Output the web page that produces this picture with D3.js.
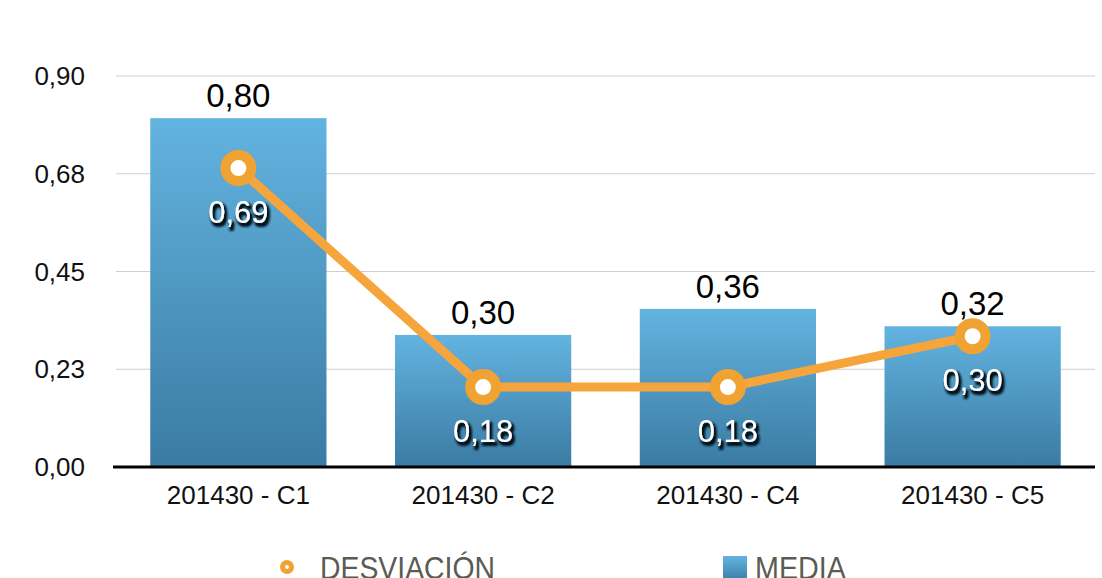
<!DOCTYPE html>
<html>
<head>
<meta charset="utf-8">
<script src="https://cdn.jsdelivr.net/npm/d3@7"></script>
<style>
 body { margin: 0; background: #fff; }
 text { font-family: "Liberation Sans", Arial, sans-serif; }
</style>
</head>
<body>
<div id="chart"></div>
<script>
// chart data
var categories = ["201430 - C1", "201430 - C2", "201430 - C4", "201430 - C5"];
var media = [0.803, 0.304, 0.364, 0.324];
var desviacion = [0.688, 0.184, 0.184, 0.301];
var yTicks = [0, 0.225, 0.45, 0.675, 0.90];
var tickLabels = ["0,00", "0,23", "0,45", "0,68", "0,90"];

var W = 1102, H = 578;
var margin = { top: 76, right: 7, bottom: 111, left: 116 },
  width = W - margin.left - margin.right,
  height = H - margin.top - margin.bottom;

var fmt = function (v) { return v.toFixed(2).replace(".", ","); };

var x = d3.scaleBand().domain(categories).range([0, width]).paddingInner(0.28).paddingOuter(0.14);
var y = d3.scaleLinear().domain([0, 0.9]).range([height, 0]);

var svg = d3.select("#chart").append("svg")
  .attr("width", W)
  .attr("height", H);

var defs = svg.append("defs");
var grad = defs.append("linearGradient")
  .attr("id", "barGrad")
  .attr("x1", 0).attr("y1", 0).attr("x2", 0).attr("y2", 1);
grad.append("stop").attr("offset", "0%").attr("stop-color", "#63b3e0");
grad.append("stop").attr("offset", "100%").attr("stop-color", "#3a7ba2");

var gradL = defs.append("linearGradient")
  .attr("id", "legGrad")
  .attr("x1", 0).attr("y1", 0).attr("x2", 0).attr("y2", 1);
gradL.append("stop").attr("offset", "0%").attr("stop-color", "#63b3e0");
gradL.append("stop").attr("offset", "100%").attr("stop-color", "#3d80a8");

// dark shadow for the labels inside the bars
var shadow = defs.append("filter").attr("id", "shadow")
  .attr("x", "-20%").attr("y", "-30%").attr("width", "150%").attr("height", "170%");
shadow.append("feMorphology")
  .attr("in", "SourceAlpha").attr("operator", "dilate").attr("radius", 0.8)
  .attr("result", "fat");
shadow.append("feOffset")
  .attr("in", "fat").attr("dx", 2).attr("dy", 3).attr("result", "off");
shadow.append("feGaussianBlur")
  .attr("in", "off").attr("stdDeviation", 0.9).attr("result", "blur");
shadow.append("feFlood").attr("flood-color", "#06121a").attr("result", "col");
shadow.append("feComposite").attr("in", "col").attr("in2", "blur").attr("operator", "in").attr("result", "sh");
var merge = shadow.append("feMerge");
merge.append("feMergeNode").attr("in", "sh");
merge.append("feMergeNode").attr("in", "SourceGraphic");

var g = svg.append("g")
  .attr("transform", "translate(" + margin.left + "," + margin.top + ")");

// gridlines
g.selectAll(".grid")
  .data(yTicks.slice(1))
  .enter().append("line")
  .attr("x1", 0).attr("x2", width)
  .attr("y1", function (d) { return y(d); })
  .attr("y2", function (d) { return y(d); })
  .attr("stroke", "#cfcfcf")
  .attr("stroke-width", 1.2);

// y labels
g.selectAll(".ylab")
  .data(yTicks)
  .enter().append("text")
  .attr("x", -31)
  .attr("y", function (d) { return y(d); })
  .attr("dy", "0.35em")
  .attr("text-anchor", "end")
  .attr("font-size", 26)
  .attr("fill", "#111")
  .text(function (d, i) { return tickLabels[i]; });

// bars
g.selectAll(".bar")
  .data(media)
  .enter().append("rect")
  .attr("x", function (d, i) { return x(categories[i]); })
  .attr("width", x.bandwidth())
  .attr("y", function (d) { return y(d); })
  .attr("height", function (d) { return height - y(d); })
  .attr("fill", "url(#barGrad)");

// bar value labels
g.selectAll(".barlab")
  .data(media)
  .enter().append("text")
  .attr("x", function (d, i) { return x(categories[i]) + x.bandwidth() / 2; })
  .attr("y", function (d) { return y(d) - 11; })
  .attr("text-anchor", "middle")
  .attr("font-size", 33)
  .attr("fill", "#000")
  .text(function (d) { return fmt(d); });

// baseline
g.append("line")
  .attr("x1", -3).attr("x2", width)
  .attr("y1", height).attr("y2", height)
  .attr("stroke", "#000")
  .attr("stroke-width", 3);

// category labels
g.selectAll(".xlab")
  .data(categories)
  .enter().append("text")
  .attr("x", function (d) { return x(d) + x.bandwidth() / 2; })
  .attr("y", height + 37)
  .attr("text-anchor", "middle")
  .attr("font-size", 26)
  .attr("fill", "#111")
  .text(function (d) { return d; });

// line
var line = d3.line()
  .x(function (d, i) { return x(categories[i]) + x.bandwidth() / 2; })
  .y(function (d) { return y(d); });

g.append("path")
  .datum(desviacion)
  .attr("d", line)
  .attr("fill", "none")
  .attr("stroke", "#f5a53c")
  .attr("stroke-width", 9)
  .attr("stroke-linejoin", "round");

g.selectAll(".dot")
  .data(desviacion)
  .enter().append("circle")
  .attr("cx", function (d, i) { return x(categories[i]) + x.bandwidth() / 2; })
  .attr("cy", function (d) { return y(d); })
  .attr("r", 13)
  .attr("fill", "#fff")
  .attr("stroke", "#f0a233")
  .attr("stroke-width", 10);

// deviation labels (white with dark shadow)
g.selectAll(".devlab")
  .data(desviacion)
  .enter().append("text")
  .attr("x", function (d, i) { return x(categories[i]) + x.bandwidth() / 2; })
  .attr("y", function (d) { return y(d) + 55; })
  .attr("text-anchor", "middle")
  .attr("font-size", 31)
  .attr("fill", "#fff")
  .attr("filter", "url(#shadow)")
  .text(function (d) { return fmt(d); });

// legend
var leg = svg.append("g");
leg.append("circle")
  .attr("cx", 287).attr("cy", 567)
  .attr("r", 4.5)
  .attr("fill", "#fff")
  .attr("stroke", "#f0a233")
  .attr("stroke-width", 5);
leg.append("text")
  .attr("x", 320).attr("y", 579)
  .attr("font-size", 32)
  .attr("fill", "#5b5b52")
  .attr("textLength", 175)
  .attr("lengthAdjust", "spacingAndGlyphs")
  .text("DESVIACIÓN");
leg.append("rect")
  .attr("x", 723).attr("y", 556)
  .attr("width", 24).attr("height", 24)
  .attr("fill", "url(#legGrad)");
leg.append("text")
  .attr("x", 755).attr("y", 579)
  .attr("font-size", 32)
  .attr("fill", "#5b5b52")
  .attr("textLength", 91)
  .attr("lengthAdjust", "spacingAndGlyphs")
  .text("MEDIA");
</script>
</body>
</html>
